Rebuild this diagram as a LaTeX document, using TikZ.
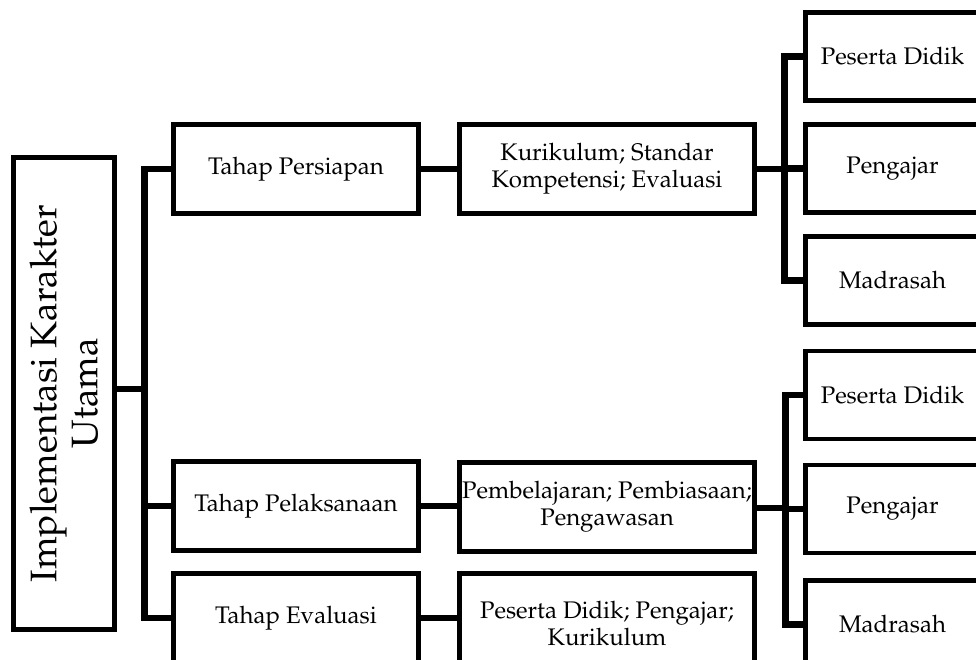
\documentclass[tikz,border=0pt]{standalone}
\usepackage[T1]{fontenc}
\usepackage{mathpazo}
\usetikzlibrary{positioning}
\tikzset{
	box/.style={draw,rectangle,align=center,line width=4.8pt,inner sep=0pt,minimum height=89pt,font=\fontsize{24}{27}\selectfont},
	stage/.style={box,minimum width=245pt},
	detail/.style={box,minimum width=295pt},
	actor/.style={box,minimum width=174pt,minimum height=88pt},
	link/.style={line width=6.5pt}
}

\begin{document}
\begin{tikzpicture}[x=1pt,y=-1pt]
            \useasboundingbox (0,0) rectangle (976,660);
            \clip (0,0) rectangle (976,660);
            \node[box,rotate=90,minimum width=472pt,minimum height=101pt,font=\fontsize{37}{41}\selectfont] (imp) at (64,393.5) {Implementasi Karakter\\Utama};
            % tahap
            \node[stage] (per) at (296,169) {Tahap Persiapan};
            \node[stage] (pel) at (296,506) {Tahap Pelaksanaan};
            \node[stage] (eva) at (296,618) {Tahap Evaluasi};
            % isi tiap tahap
            \node[detail] (kur) at (607,169) {Kurikulum; Standar\\Kompetensi; Evaluasi};
            \node[detail] (pem) at (607,507) {Pembelajaran; Pembiasaan;\\Pengawasan};
            \node[detail,minimum height=100pt] (pes) at (607,623.5) {Peserta Didik; Pengajar;\\Kurikulum};
            % pelaku
            \node[actor] (pd1) at (892.5,56.5) {Peserta Didik};
            \node[actor] (pg1) at (892.5,168.5) {Pengajar};
            \node[actor] (md1) at (892.5,280.5) {Madrasah};
            \node[actor] (pd2) at (892.5,395) {Peserta Didik};
            \node[actor] (pg2) at (892.5,509) {Pengajar};
            \node[actor] (md2) at (892.5,624.5) {Madrasah};
            \coordinate (j0) at (144.5,389);
            \coordinate (j1) at (784.5,169);
            \coordinate (j2) at (785.5,508);
            \draw[link] (imp.south |- j0) -- (j0);
            \draw[link] (per.west) -| (j0) |- (eva.west);
            \draw[link] (pel.west) -- (pel.west -| j0);
            \draw[link] (per) -- (kur);
            \draw[link] (pel) -- (pel -| pem.west);
            \draw[link] (eva.east) -- (eva.east -| pes.west);
            \draw[link] (kur) -- (j1);
            \draw[link] (pd1.west) -| (j1) |- (md1.west);
            \draw[link] (pg1.west) -- (pg1.west -| j1);
            \draw[link] (pem.east |- j2) -- (j2);
            \draw[link] (pd2.west) -| (j2) |- (md2.west);
            \draw[link] (pg2.west) -- (pg2.west -| j2);
        \end{tikzpicture}
\end{document}
